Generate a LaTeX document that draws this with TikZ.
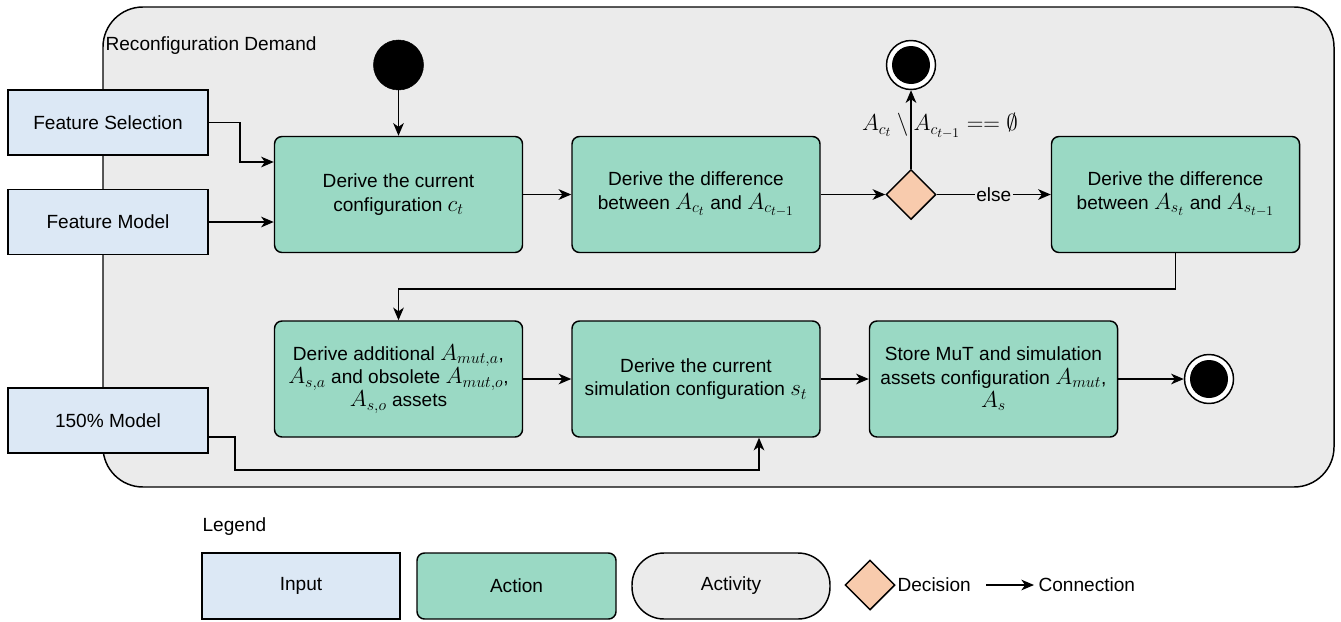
\documentclass[tikz,border=0pt]{standalone}
\usepackage[no-math]{fontspec}
\setmainfont{Liberation Sans}
\usetikzlibrary{arrows.meta,calc,shapes.geometric}
\DeclareMathSizes{16}{16}{12}{10}
\definecolor{inputfill}{HTML}{DCE8F5}
\definecolor{actfill}{HTML}{9AD9C4}
\definecolor{contfill}{HTML}{EBEBEB}
\definecolor{decfill}{HTML}{F8CBAD}
\newdimen\px \px=0.75pt
\newcommand\mm[1]{{\fontsize{16}{17.5}\selectfont$#1$}}
\tikzset{
  base/.style={line width=1.1pt, draw=black, font=\fontsize{14.3}{17.5}\selectfont, align=center, inner sep=0pt},
  inbox/.style={base, fill=inputfill, rectangle, minimum width=200\px, minimum height=65\px},
  actbox/.style={base, fill=actfill, rectangle, rounded corners=7.5\px, minimum width=248\px, minimum height=116\px},
  decbox/.style={base, fill=decfill, diamond, minimum width=50\px, minimum height=50\px, inner sep=0pt},
  startdot/.style={circle, fill=black, draw=black, minimum size=50\px, inner sep=0pt},
  enddot/.style={circle, draw=black, line width=1.1pt, fill=white, minimum size=49\px, inner sep=0pt,
     path picture={\fill[black] (path picture bounding box.center) circle (19\px);}},
  arr/.style={line width=1.1pt, -{Stealth[length=9.5pt,width=8pt,inset=2.8pt]}},
  lbl/.style={font=\fontsize{14.3}{17.5}\selectfont, inner sep=1pt}
}
\begin{document}
\begin{tikzpicture}[x=0.75pt,y=-0.75pt]
\useasboundingbox (0,0) rectangle (1341,621);
% container activity
\draw[line width=1.1pt, fill=contfill, rounded corners=30pt] (103,7) rectangle (1334,487);
\node[lbl, anchor=west] (title) at (104,46) {Reconfiguration Demand};

% inputs
\node[inbox] (fs) at (108,122.5) {Feature Selection};
\node[inbox] (fm) at (108,222) {Feature Model};
\node[inbox] (pm) at (108,420.5) {150\% Model};

% start / end
\node[startdot] (start) at (398.5,65) {};
\node[enddot] (end1) at (911,65) {};
\node[enddot] (end2) at (1209,379) {};

% actions
\node[actbox] (a1) at (398.5,194.5) {Derive the current\\configuration \mm{c_t}};
\node[actbox] (a2) at (696,194.5) {Derive the difference\\between \mm{A_{c_t}} and \mm{A_{c_{t-1}}}};
\node[decbox] (dec) at (911,194.5) {};
\node[actbox] (a3) at (1175.5,194.5) {Derive the difference\\between \mm{A_{s_t}} and \mm{A_{s_{t-1}}}};
\node[actbox] (a4) at (398.5,379) {Derive additional \mm{A_{mut,a}},\\\mm{A_{s,a}} and obsolete \mm{A_{mut,o}},\\\mm{A_{s,o}} assets};
\node[actbox] (a5) at (696,379) {Derive the current\\simulation configuration \mm{s_t}};
\node[actbox] (a6) at (993.5,379) {Store MuT and simulation\\assets configuration \mm{A_{mut}},\\\mm{A_s}};

% helper coordinates
\coordinate (j1) at (240,162);
\coordinate (j2) at (398.5,289);
\coordinate (j3) at (235,470);
\coordinate (j4) at (759,470);

% connectors
\draw[arr] (start) -- (a1);
\draw[arr] (fs.east) -| (j1) -- (j1 -| a1.west);
\draw[arr] (fm.east) -- (fm.east -| a1.west);
\draw[arr] (a1) -- (a2);
\draw[arr] (a2) -- (dec);
\draw[arr] (dec) -- node[lbl, fill=contfill, inner sep=1pt] (elsel) {else} (a3);
\draw[arr] (dec.north) -- (end1.south);
\node[lbl] (cond) at (940,126) {\mm{A_{c_t} \setminus A_{c_{t-1}} == \emptyset}};
\draw[arr] (a3.south) |- (j2) -- (a4.north);
\draw[arr] (a4) -- (a5);
\draw[arr] (a5) -- (a6);
\draw[arr] (a6) -- (end2);
\draw[arr] ($(pm.east)+(0,16.5)$) -| (j3) -| (a5.south -| j4);

% legend
\node[lbl, anchor=west] (legend) at (201,527) {Legend};
\node[inbox, minimum width=198\px, minimum height=66\px] (lin) at (301,586) {Input};
\node[actbox, minimum width=199\px, minimum height=66\px] (lact) at (516.5,586) {Action};
\node[base, fill=contfill, rounded corners=24pt, minimum width=198\px, minimum height=66\px] (lactv) at (731,586) {Activity};
\node[decbox] (ldec) at (870,585) {};
\node[lbl, anchor=west] (ldect) at (896,585) {Decision};
\coordinate (l1) at (986,585);
\coordinate (l2) at (1034,585);
\draw[arr] (l1) -- (l2);
\node[lbl, anchor=west] (lcon) at (1037,585) {Connection};
\end{tikzpicture}
\end{document}
